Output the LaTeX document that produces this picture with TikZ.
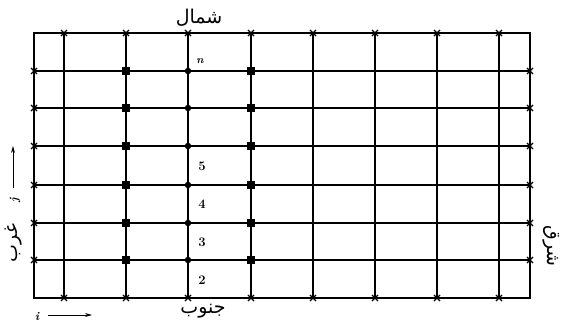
\documentclass[tikz,border=0pt]{standalone}
\usepackage{fontspec}
\newfontfamily\arabicfont[Script=Arabic]{DejaVu Sans}
\TeXXeTstate=1
\usetikzlibrary{shapes.misc,arrows.meta}
\tikzset{
  gridline/.style={line width=1.4pt},
  xmark/.style={cross out,draw,line width=1.1pt,minimum size=5pt,inner sep=0pt},
  sqmark/.style={rectangle,fill=black,minimum size=8pt,inner sep=0pt},
  dotmark/.style={circle,fill=black,minimum size=6.5pt,inner sep=0pt},
  numlabel/.style={font=\bfseries\fontsize{13}{15}\selectfont,inner sep=0pt},
  dirlabel/.style={font=\arabicfont\fontsize{19}{22}\selectfont,inner sep=0pt},
  axlabel/.style={font=\bfseries\itshape\fontsize{12}{14}\selectfont,inner sep=0pt},
  axarrow/.style={line width=0.8pt,-{Stealth[length=7pt,width=4pt]}}
}
\begin{document}
\begin{tikzpicture}[x=1pt,y=-1pt]
\useasboundingbox (0,0) rectangle (563,325);
% border
\coordinate (NW) at (34,33);
\coordinate (NE) at (530,33);
\coordinate (SE) at (530,298);
\coordinate (SW) at (34,298);
\draw[gridline] (NW) -- (NE) -- (SE) -- (SW) -- cycle;
% vertical lines
\foreach \k/\x in {1/64,2/126,3/188,4/251,5/313,6/375,7/437,8/499}{
  \node[xmark] (t\k) at (\x,33) {};
  \node[xmark] (b\k) at (\x,298) {};
  \draw[gridline] (t\k.center) -- (b\k.center);
}
% horizontal lines
\foreach \k/\y in {1/71,2/108,3/146,4/185,5/223,6/260}{
  \node[xmark] (l\k) at (34,\y) {};
  \node[xmark] (r\k) at (530,\y) {};
  \draw[gridline] (l\k.center) -- (r\k.center);
}
% squares and dots
\foreach \k/\y in {1/71,2/108,3/146,4/185,5/223,6/260}{
  \node[sqmark] (sa\k) at (126,\y) {};
  \node[dotmark] (d\k) at (188,\y) {};
  \node[sqmark] (sb\k) at (251,\y) {};
}
% labels
\node[axlabel,font=\bfseries\itshape\fontsize{11}{13}\selectfont] (ln) at (200,61) {n};
\node[numlabel] (l5) at (202,166) {5};
\node[numlabel] (l4) at (202,204) {4};
\node[numlabel] (l3) at (202,242) {3};
\node[numlabel] (l2) at (202,280) {2};
% directions
\node[dirlabel] (north) at (199,18) {\beginR شمال\endR};
\node[dirlabel] (south) at (203,311) {\beginR جنوب\endR};
\node[dirlabel,rotate=90] (west) at (14,243) {\beginR غرب\endR};
\node[dirlabel,rotate=-90] (east) at (551,246) {\beginR شرق\endR};
% axes
\node[axlabel] (ilab) at (37,316) {i};
\coordinate (ia) at (48,315);
\coordinate (ib) at (92,315);
\draw[axarrow] (ia) -- (ib);
\node[axlabel,rotate=90] (jlab) at (15,200) {j};
\coordinate (ja) at (13,188);
\coordinate (jb) at (13,146);
\draw[axarrow] (ja) -- (jb);
\end{tikzpicture}
\end{document}
